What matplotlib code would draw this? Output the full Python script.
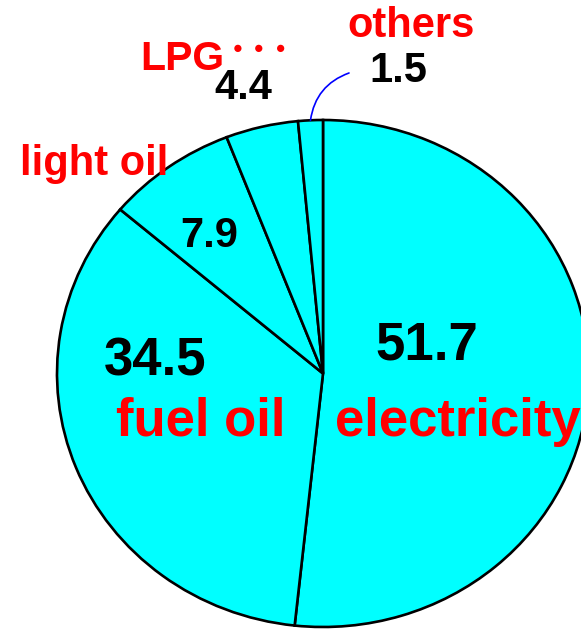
import numpy as np
import matplotlib
matplotlib.use("Agg")
from matplotlib import pyplot as plt

# share of energy use by source (%), clockwise from 12 o'clock
sources = ["electricity", "fuel oil", "light oil", "LPG", "others"]
shares = [51.7, 34.5, 7.9, 4.4, 1.5]
share_labels = ["51.7", "34.5", "7.9", "4.4", "1.5"]

W, H = 581, 629
# pie centre and radii in pixels (the pie is drawn slightly wider than tall)
cx, cy = 323, 373.5
rx, ry = 266, 253.5

RED = "#FF0000"
FONT = "Liberation Sans"


def px(x, y):
    # pixel position (top-left origin) -> figure fraction
    return x / W, 1 - y / H


fig = plt.figure(figsize=(W / 100, H / 100), dpi=100)
ax = fig.add_axes([0, 0, 1, 1])

wedges, _ = ax.pie(shares, startangle=90, counterclock=False,
                   colors=["#00FFFF"] * len(shares),
                   wedgeprops=dict(edgecolor="black", linewidth=1.9))
ax.set_aspect("auto")
ax.set_xlim(-cx / rx, (W - cx) / rx)
ax.set_ylim(-(H - cy) / ry, cy / ry)
ax.axis("off")

# value / name labels: (text, x, baseline y, size, colour)
labels = [
    (share_labels[0], 427, 360, 38, "black"),
    (sources[0], 458, 436, 38, RED),
    (share_labels[1], 155, 375, 38, "black"),
    (sources[1], 201, 436, 38, RED),
    (share_labels[2], 209, 247, 30, "black"),
    (sources[2], 94, 175, 30, RED),
    (share_labels[3], 243, 99, 30, "black"),
    (sources[3], 182, 70, 29.5, RED),
    (share_labels[4], 398, 82, 30, "black"),
    (sources[4], 411, 37, 30, RED),
]
for s, x, y, size, color in labels:
    fig.text(*px(x, y), s, ha="center", va="baseline", fontsize=size,
             color=color, fontweight="bold", family=FONT)

# dotted leader after "LPG"
fig.text(*px(260, 52), "･･･", ha="center", va="center", fontsize=31.5,
         color=RED, family=["Noto Sans CJK JP", "DejaVu Sans"])

# thin blue leader from the "others" slice up towards its value
w = wedges[-1]
mid = np.deg2rad((w.theta1 + w.theta2) / 2)
ax.annotate("", xy=(np.cos(mid), np.sin(mid)), xycoords="data",
            xytext=px(349, 73), textcoords="figure fraction",
            arrowprops=dict(arrowstyle="-", color="#0000FF", lw=1.2,
                            connectionstyle="arc3,rad=0.3",
                            shrinkA=0, shrinkB=0))

fig.savefig("out.png", dpi=100)
